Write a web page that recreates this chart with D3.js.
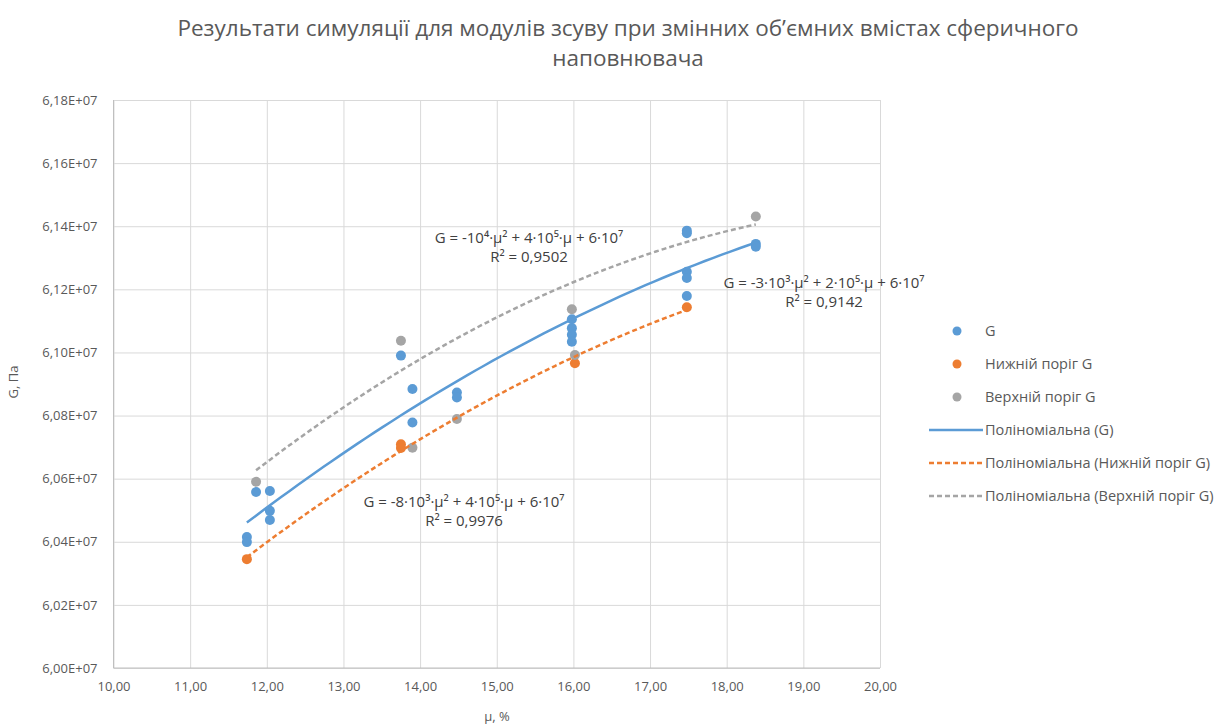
<!DOCTYPE html>
<html>
<head>
<meta charset="utf-8">
<script src="https://cdn.jsdelivr.net/npm/d3@7"></script>
<style>
  body { margin: 0; background: #fff; }
  text { font-family: "Open Sans", "Noto Sans", sans-serif; }
</style>
</head>
<body>
<div id="chart"></div>
<script>
// μ, % and G, Pa
const gX = [11.74, 11.74, 11.86, 12.04, 12.04, 12.04, 13.75, 13.90, 13.90, 14.48, 14.48,
            15.98, 15.98, 15.98, 15.98, 17.48, 17.48, 17.48, 17.48, 17.48, 18.38, 18.38];
const gY = [6.0415e7, 6.0399e7, 6.0558e7, 6.0561e7, 6.0498e7, 6.0469e7, 6.0990e7, 6.0884e7, 6.0778e7, 6.0873e7, 6.0857e7,
            6.1105e7, 6.1077e7, 6.1056e7, 6.1034e7, 6.1386e7, 6.1378e7, 6.1256e7, 6.1236e7, 6.1179e7, 6.1344e7, 6.1335e7];

const lowX = [11.74, 13.75, 13.75, 16.02, 17.48];
const lowY = [6.0345e7, 6.0709e7, 6.0697e7, 6.0966e7, 6.1143e7];
// points of the lower series that show up grey (overdrawn) in the reference
const sharedX = [13.90, 14.48, 16.02];
const sharedY = [6.0698e7, 6.0789e7, 6.0992e7];

const upX = [11.86, 13.75, 15.98, 18.38];
const upY = [6.0590e7, 6.1037e7, 6.1137e7, 6.1431e7];

const xTicks = [10, 11, 12, 13, 14, 15, 16, 17, 18, 19, 20];
const yTicks = [6.00e7, 6.02e7, 6.04e7, 6.06e7, 6.08e7, 6.10e7, 6.12e7, 6.14e7, 6.16e7, 6.18e7];

const seriesNames = ["G", "Нижній поріг G", "Верхній поріг G"];
const trendNames = ["Поліноміальна (G)", "Поліноміальна (Нижній поріг G)", "Поліноміальна (Верхній поріг G)"];
const equations = [
  ["G = -3·10³·μ² + 2·10⁵·μ + 6·10⁷", "R² = 0,9142"],
  ["G = -8·10³·μ² + 4·10⁵·μ + 6·10⁷", "R² = 0,9976"],
  ["G = -10⁴·μ² + 4·10⁵·μ + 6·10⁷", "R² = 0,9502"]
];
const colors = ["#5B9BD5", "#ED7D31", "#A5A5A5"];

const W = 1222, H = 726;
const svg = d3.select("#chart").append("svg").attr("width", W).attr("height", H);

const x = d3.scaleLinear().domain([10, 20]).range([113.5, 880]);
const y = d3.scaleLinear().domain([6.00e7, 6.18e7]).range([668, 100]);

// title
svg.append("text").attr("x", 628).attr("y", 36).attr("text-anchor", "middle")
   .style("font-size", "22.5px").attr("fill", "#595959")
   .text("Результати симуляції для модулів зсуву при змінних об’ємних вмістах сферичного");
svg.append("text").attr("x", 628).attr("y", 66).attr("text-anchor", "middle")
   .style("font-size", "22.5px").attr("fill", "#595959")
   .text("наповнювача");

// grid + axes
const gx = svg.append("g").attr("transform", "translate(0,668)")
   .call(d3.axisBottom(x).tickValues(xTicks).tickSize(-568).tickPadding(14)
        .tickFormat(d => d.toFixed(2).replace(".", ",")));
const gy = svg.append("g").attr("transform", "translate(113.5,0)")
   .call(d3.axisLeft(y).tickValues(yTicks).tickSize(-766.5).tickPadding(16)
        .tickFormat(d => (d / 1e7).toFixed(2).replace(".", ",") + "E+07"));
[gx, gy].forEach(g => {
  g.select(".domain").remove();
  g.selectAll(".tick line").attr("stroke", "#d9d9d9");
  g.selectAll(".tick text").attr("fill", "#595959").style("font-size", "13px")
   .style("font-family", "'Open Sans', sans-serif");
});
// axis lines
svg.append("line").attr("x1", x(10)).attr("x2", x(20)).attr("y1", y(6.00e7)).attr("y2", y(6.00e7))
   .attr("stroke", "#bfbfbf");
svg.append("line").attr("x1", x(10)).attr("x2", x(10)).attr("y1", y(6.00e7)).attr("y2", y(6.18e7))
   .attr("stroke", "#bfbfbf");

svg.append("text").attr("x", 497).attr("y", 721).attr("text-anchor", "middle")
   .style("font-size", "13px").attr("fill", "#595959").text("μ, %");
svg.append("text").attr("transform", "translate(18,382) rotate(-90)").attr("text-anchor", "middle")
   .style("font-size", "13px").attr("fill", "#595959").text("G, Па");

// quadratic least-squares fit
function polyfit2(xs, ys) {
  const m = d3.mean(xs);
  const S = [0, 0, 0, 0, 0], T = [0, 0, 0];
  xs.forEach((xv, i) => {
    const u = xv - m;
    for (let k = 0; k < 5; k++) S[k] += Math.pow(u, k);
    for (let k = 0; k < 3; k++) T[k] += ys[i] * Math.pow(u, k);
  });
  const A = [[S[0], S[1], S[2]], [S[1], S[2], S[3]], [S[2], S[3], S[4]]];
  const det = M => M[0][0] * (M[1][1] * M[2][2] - M[1][2] * M[2][1])
                 - M[0][1] * (M[1][0] * M[2][2] - M[1][2] * M[2][0])
                 + M[0][2] * (M[1][0] * M[2][1] - M[1][1] * M[2][0]);
  const D = det(A);
  const c = [0, 1, 2].map(j => det(A.map((row, r) => row.map((v, k) => k === j ? T[r] : v))) / D);
  return xv => c[0] + c[1] * (xv - m) + c[2] * (xv - m) * (xv - m);
}

const series = [
  {xs: gX, ys: gY, fx: gX, fy: gY},
  {xs: lowX, ys: lowY, fx: lowX.concat(sharedX), fy: lowY.concat(sharedY)},
  {xs: upX, ys: upY, fx: upX, fy: upY}
];

// markers
series.forEach((s, i) => {
  svg.append("g").selectAll("circle")
     .data(s.xs.map((v, k) => [v, s.ys[k]]))
     .enter().append("circle")
     .attr("cx", d => x(d[0])).attr("cy", d => y(d[1])).attr("r", 5)
     .attr("fill", colors[i]);
  if (i === 1) {
    svg.append("g").selectAll("circle")
       .data(sharedX.map((v, k) => [v, sharedY[k]]))
       .enter().append("circle")
       .attr("cx", d => x(d[0])).attr("cy", d => y(d[1])).attr("r", 5)
       .attr("fill", colors[2]);
  }
});

// trend lines
const dashes = [null, "5,3", "5,3"];
const line = d3.line().x(d => x(d[0])).y(d => y(d[1]));
series.forEach((s, i) => {
  const f = polyfit2(s.fx, s.fy);
  const [lo, hi] = d3.extent(s.fx);
  const pts = d3.range(0, 61).map(k => { const xv = lo + (hi - lo) * k / 60; return [xv, f(xv)]; });
  svg.append("path").datum(pts).attr("d", line).attr("fill", "none")
     .attr("stroke", colors[i]).attr("stroke-width", 2.5)
     .attr("stroke-dasharray", dashes[i]);
});

// equation labels
const eqPos = [[824, 288], [464, 507], [529, 243]];
equations.forEach((e, i) => {
  e.forEach((t, k) => {
    svg.append("text").attr("x", eqPos[i][0]).attr("y", eqPos[i][1] + k * 19)
       .attr("text-anchor", "middle").style("font-size", "15px").attr("fill", "#404040").text(t);
  });
});

// legend
const legY = [331, 364, 397, 430, 463, 496];
const leg = svg.append("g");
seriesNames.forEach((n, i) => {
  leg.append("circle").attr("cx", 957).attr("cy", legY[i]).attr("r", 4.5).attr("fill", colors[i]);
  leg.append("text").attr("x", 985).attr("y", legY[i] + 5).style("font-size", "14.5px")
     .attr("fill", "#595959").text(n);
});
trendNames.forEach((n, i) => {
  leg.append("line").attr("x1", 929).attr("x2", 983).attr("y1", legY[i + 3]).attr("y2", legY[i + 3])
     .attr("stroke", colors[i]).attr("stroke-width", 2.5).attr("stroke-dasharray", dashes[i]);
  leg.append("text").attr("x", 985).attr("y", legY[i + 3] + 5).style("font-size", "14.5px")
     .attr("fill", "#595959").text(n);
});
</script>
</body>
</html>
